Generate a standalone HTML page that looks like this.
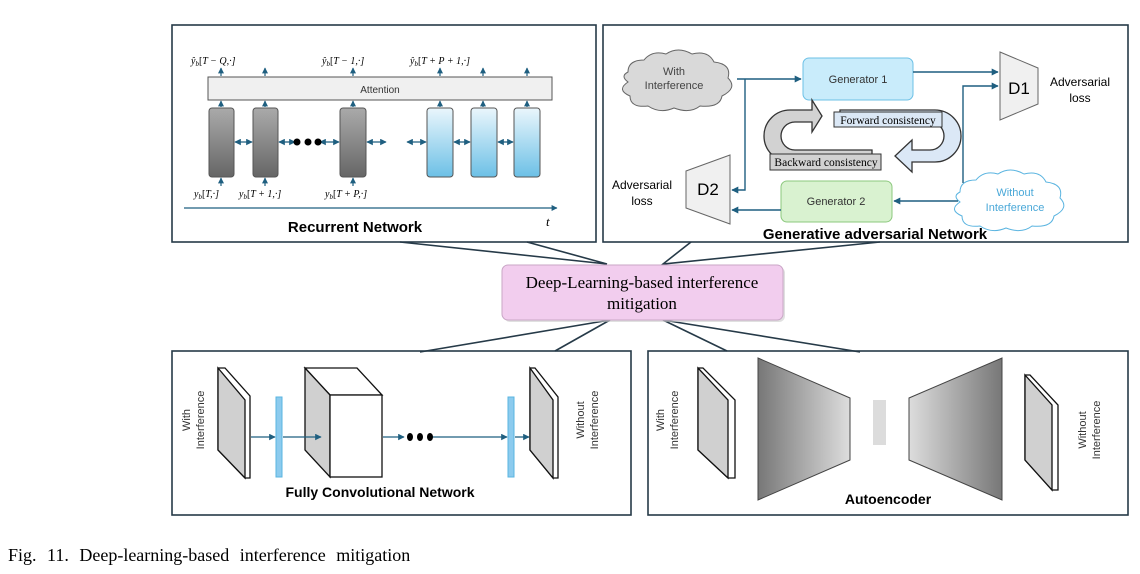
<!DOCTYPE html>
<html><head><meta charset="utf-8"><style>
html,body{margin:0;padding:0;background:#fff;width:1140px;height:574px;overflow:hidden}
svg{display:block}
.s{font-family:"Liberation Sans",sans-serif}
.r{font-family:"Liberation Serif",serif}
</style></head><body>
<svg width="1140" height="574" viewBox="0 0 1140 574" xmlns="http://www.w3.org/2000/svg">
<defs>
<marker id="a" viewBox="0 0 10 10" refX="9" refY="5" markerWidth="5" markerHeight="5" orient="auto-start-reverse"><path d="M0,0L10,5L0,10z" fill="#1f5f80"/></marker>
<linearGradient id="gc" x1="0" y1="0" x2="0" y2="1"><stop offset="0" stop-color="#aaa"/><stop offset="1" stop-color="#666"/></linearGradient>
<linearGradient id="bc" x1="0" y1="0" x2="0" y2="1"><stop offset="0" stop-color="#eaf6fc"/><stop offset="1" stop-color="#6cc0e6"/></linearGradient>
<linearGradient id="t1" x1="0" y1="0" x2="1" y2="0"><stop offset="0" stop-color="#777"/><stop offset="1" stop-color="#ddd"/></linearGradient>
<linearGradient id="t2" x1="0" y1="0" x2="1" y2="0"><stop offset="0" stop-color="#ddd"/><stop offset="1" stop-color="#777"/></linearGradient>
</defs>
<g fill="none" stroke="#263a48" stroke-width="1.6">
<rect x="172" y="25" width="424" height="217"/>
<rect x="603" y="25" width="525" height="217"/>
<rect x="172" y="351" width="459" height="164"/>
<rect x="648" y="351" width="480" height="164"/>
<polyline points="400,242 607,264 527,242"/>
<polyline points="691,242 663,264 880,242"/>
<polyline points="420,352 610,320 555,351"/>
<polyline points="727,351 663,320 860,352"/>
</g>
<rect x="504" y="267" width="281" height="55" rx="6" fill="#ccc" opacity="0.6"/>
<rect x="502" y="265" width="281" height="55" rx="6" fill="#f2cdee" stroke="#c9a6c6"/>
<text x="642" y="288" class="r" font-size="17" text-anchor="middle">Deep-Learning-based interference</text>
<text x="642" y="309" class="r" font-size="17" text-anchor="middle">mitigation</text>

<!-- RNN -->
<rect x="208" y="77" width="344" height="23" fill="#f0f0f0" stroke="#555"/>
<text x="380" y="93" class="s" font-size="10" text-anchor="middle" fill="#333">Attention</text>
<g stroke="#555">
<rect x="209" y="108" width="25" height="69" rx="3" fill="url(#gc)"/>
<rect x="253" y="108" width="25" height="69" rx="3" fill="url(#gc)"/>
<rect x="340" y="108" width="26" height="69" rx="3" fill="url(#gc)"/>
<rect x="427" y="108" width="26" height="69" rx="3" fill="url(#bc)"/>
<rect x="471" y="108" width="26" height="69" rx="3" fill="url(#bc)"/>
<rect x="514" y="108" width="26" height="69" rx="3" fill="url(#bc)"/>
</g>
<g stroke="#1f5f80" stroke-width="1.3" marker-end="url(#a)" marker-start="url(#a)">
<line x1="235" y1="142" x2="252" y2="142"/><line x1="279" y1="142" x2="295" y2="142"/>
<line x1="320" y1="142" x2="339" y2="142"/><line x1="367" y1="142" x2="386" y2="142"/>
<line x1="407" y1="142" x2="426" y2="142"/><line x1="454" y1="142" x2="470" y2="142"/><line x1="498" y1="142" x2="513" y2="142"/>
</g>
<g fill="#000"><circle cx="297" cy="142" r="3.5"/><circle cx="308" cy="142" r="3.5"/><circle cx="318" cy="142" r="3.5"/></g>
<g stroke="#1f5f80" stroke-width="1.2" marker-end="url(#a)">
<line x1="221" y1="107" x2="221" y2="101"/><line x1="265" y1="107" x2="265" y2="101"/><line x1="353" y1="107" x2="353" y2="101"/>
<line x1="440" y1="107" x2="440" y2="101"/><line x1="483" y1="107" x2="483" y2="101"/><line x1="527" y1="107" x2="527" y2="101"/>
<line x1="221" y1="76" x2="221" y2="68"/><line x1="265" y1="76" x2="265" y2="68"/><line x1="353" y1="76" x2="353" y2="68"/>
<line x1="440" y1="76" x2="440" y2="68"/><line x1="483" y1="76" x2="483" y2="68"/><line x1="527" y1="76" x2="527" y2="68"/>
<line x1="221" y1="186" x2="221" y2="178"/><line x1="265" y1="186" x2="265" y2="178"/><line x1="353" y1="186" x2="353" y2="178"/>
<line x1="184" y1="208" x2="557" y2="208"/>
</g>
<g class="r" font-size="10" font-style="italic">
<text x="191" y="64">ŷ<tspan font-size="7" dy="2">b</tspan><tspan dy="-2" font-style="normal">[</tspan>T − Q,·]</text>
<text x="322" y="64">ŷ<tspan font-size="7" dy="2">b</tspan><tspan dy="-2" font-style="normal">[</tspan>T − 1,·]</text>
<text x="410" y="64">ŷ<tspan font-size="7" dy="2">b</tspan><tspan dy="-2" font-style="normal">[</tspan>T + P + 1,·]</text>
<text x="194" y="197">y<tspan font-size="7" dy="2">b</tspan><tspan dy="-2" font-style="normal">[</tspan>T,·]</text>
<text x="239" y="197">y<tspan font-size="7" dy="2">b</tspan><tspan dy="-2" font-style="normal">[</tspan>T + 1,·]</text>
<text x="325" y="197">y<tspan font-size="7" dy="2">b</tspan><tspan dy="-2" font-style="normal">[</tspan>T + P,·]</text>
<text x="546" y="226" font-size="13">t</text>
</g>
<text x="355" y="232" class="s" font-size="15" font-weight="bold" text-anchor="middle">Recurrent Network</text>

<!-- GAN -->
<path d="M628,72 q0,-12 16,-12 q8,-10 22,-6 q12,-8 26,0 q16,-4 22,8 q18,2 14,16 q10,10 -6,18 q-2,12 -22,10 q-10,8 -26,2 q-14,6 -26,-2 q-18,2 -18,-10 q-14,-6 -2,-14 q-8,-6 0,-10z" fill="#d9d9d9" stroke="#666"/>
<text x="674" y="75" class="s" font-size="11" text-anchor="middle" fill="#444">With</text>
<text x="674" y="89" class="s" font-size="11" text-anchor="middle" fill="#444">Interference</text>
<path d="M960,192 q0,-12 16,-12 q8,-10 22,-6 q12,-8 26,0 q16,-4 22,8 q18,2 14,16 q10,10 -6,18 q-2,12 -22,10 q-10,8 -26,2 q-14,6 -26,-2 q-18,2 -18,-10 q-14,-6 -2,-14 q-8,-6 0,-10z" fill="#fff" stroke="#5ab4e0"/>
<text x="1015" y="196" class="s" font-size="11" text-anchor="middle" fill="#4aa8d8">Without</text>
<text x="1015" y="211" class="s" font-size="11" text-anchor="middle" fill="#4aa8d8">Interference</text>
<rect x="803" y="58" width="110" height="42" rx="6" fill="#c9ecfb" stroke="#6cc0e6"/>
<text x="858" y="83" class="s" font-size="11" text-anchor="middle" fill="#333">Generator 1</text>
<rect x="781" y="181" width="111" height="41" rx="6" fill="#d9f2d0" stroke="#8cc87e"/>
<text x="836" y="205" class="s" font-size="11" text-anchor="middle" fill="#333">Generator 2</text>
<polygon points="1000,52 1038,68 1038,104 1000,120" fill="#f0f0f0" stroke="#666"/>
<text x="1019" y="94" class="s" font-size="17" text-anchor="middle">D1</text>
<polygon points="686,171 730,155 730,224 686,208" fill="#f0f0f0" stroke="#666"/>
<text x="708" y="195" class="s" font-size="17" text-anchor="middle">D2</text>
<text x="1080" y="86" class="s" font-size="12" text-anchor="middle">Adversarial</text>
<text x="1080" y="102" class="s" font-size="12" text-anchor="middle">loss</text>
<text x="642" y="189" class="s" font-size="12" text-anchor="middle">Adversarial</text>
<text x="642" y="205" class="s" font-size="12" text-anchor="middle">loss</text>
<g stroke="#1f5f80" stroke-width="1.4" fill="none" marker-end="url(#a)">
<line x1="737" y1="79" x2="801" y2="79"/>
<line x1="913" y1="72" x2="998" y2="72"/>
<polyline points="963,183 963,86 998,86"/>
<polyline points="745,79 745,190 732,190"/>
<line x1="958" y1="201" x2="894" y2="201"/>
<line x1="781" y1="210" x2="732" y2="210"/>
</g>
<path d="M872,162 L790,162 A26,26 0 0 1 790,110 L812,110 L812,100 L822,116 L812,132 L812,122 L795,122 A14,14 0 0 0 795,150 L872,150z" fill="#d2d2d2" stroke="#333" stroke-width="1.3"/>
<path d="M840,110 L935,110 A26,26 0 0 1 935,162 L912,162 L912,172 L895,156 L912,140 L912,150 L930,150 A14,14 0 0 0 930,122 L840,122z" fill="#dbe8f6" stroke="#333" stroke-width="1.3"/>
<rect x="834" y="112" width="108" height="15" fill="#dbe8f6" stroke="#333"/>
<text x="888" y="124" class="r" font-size="11.5" text-anchor="middle">Forward consistency</text>
<rect x="770" y="154" width="111" height="16" fill="#d2d2d2" stroke="#333"/>
<text x="826" y="166" class="r" font-size="11.5" text-anchor="middle">Backward consistency</text>
<text x="875" y="239" class="s" font-size="15" font-weight="bold" text-anchor="middle">Generative adversarial Network</text>

<!-- FCN -->
<g stroke="#111" stroke-width="1.3">
<polygon points="218,368 225,368 250,396 250,478 245,478 218,450" fill="#fff"/>
<polygon points="218,368 245,400 245,478 218,450" fill="#d0d0d0"/>
<polygon points="305,368 357,368 382,395 330,395" fill="#fff"/>
<polygon points="305,368 330,395 330,477 305,450" fill="#d0d0d0"/>
<rect x="330" y="395" width="52" height="82" fill="#fff"/>
<polygon points="530,368 535,368 558,397 558,478 553,478 530,450" fill="#fff"/>
<polygon points="530,368 553,400 553,478 530,450" fill="#d0d0d0"/>
</g>
<rect x="276" y="397" width="6" height="80" fill="#8ccbee" stroke="#5ab4e0"/>
<rect x="508" y="397" width="6" height="80" fill="#8ccbee" stroke="#5ab4e0"/>
<g stroke="#1f5f80" stroke-width="1.3" marker-end="url(#a)">
<line x1="251" y1="437" x2="275" y2="437"/><line x1="283" y1="437" x2="321" y2="437"/>
<line x1="383" y1="437" x2="404" y2="437"/><line x1="432" y1="437" x2="507" y2="437"/><line x1="515" y1="437" x2="529" y2="437"/>
</g>
<g fill="#000"><ellipse cx="410" cy="437" rx="3" ry="4"/><ellipse cx="420" cy="437" rx="3" ry="4"/><ellipse cx="430" cy="437" rx="3" ry="4"/></g>
<g class="s" font-size="11" fill="#333" text-anchor="middle">
<text transform="translate(190,420) rotate(-90)">With</text>
<text transform="translate(204,420) rotate(-90)">Interference</text>
<text transform="translate(584,420) rotate(-90)">Without</text>
<text transform="translate(598,420) rotate(-90)">Interference</text>
<text transform="translate(664,420) rotate(-90)">With</text>
<text transform="translate(678,420) rotate(-90)">Interference</text>
<text transform="translate(1086,430) rotate(-90)">Without</text>
<text transform="translate(1100,430) rotate(-90)">Interference</text>
</g>
<text x="380" y="497" class="s" font-size="14" font-weight="bold" text-anchor="middle">Fully Convolutional Network</text>

<!-- Autoencoder -->
<g stroke="#111" stroke-width="1.3">
<polygon points="698,368 703,368 735,400 735,478 728,478 698,450" fill="#fff"/>
<polygon points="698,368 728,400 728,478 698,450" fill="#d0d0d0"/>
<polygon points="1025,375 1030,375 1058,405 1058,490 1052,490 1025,460" fill="#fff"/>
<polygon points="1025,375 1052,405 1052,490 1025,460" fill="#d0d0d0"/>
</g>
<polygon points="758,358 850,398 850,460 758,500" fill="url(#t1)" stroke="#444"/>
<polygon points="909,398 1002,358 1002,500 909,460" fill="url(#t2)" stroke="#444"/>
<rect x="873" y="400" width="13" height="45" fill="#dcdcdc"/>
<text x="888" y="504" class="s" font-size="14" font-weight="bold" text-anchor="middle">Autoencoder</text>

<text x="8" y="561" class="r" font-size="18" word-spacing="6">Fig. 11.  Deep-learning-based interference mitigation</text>
</svg>
</body></html>
